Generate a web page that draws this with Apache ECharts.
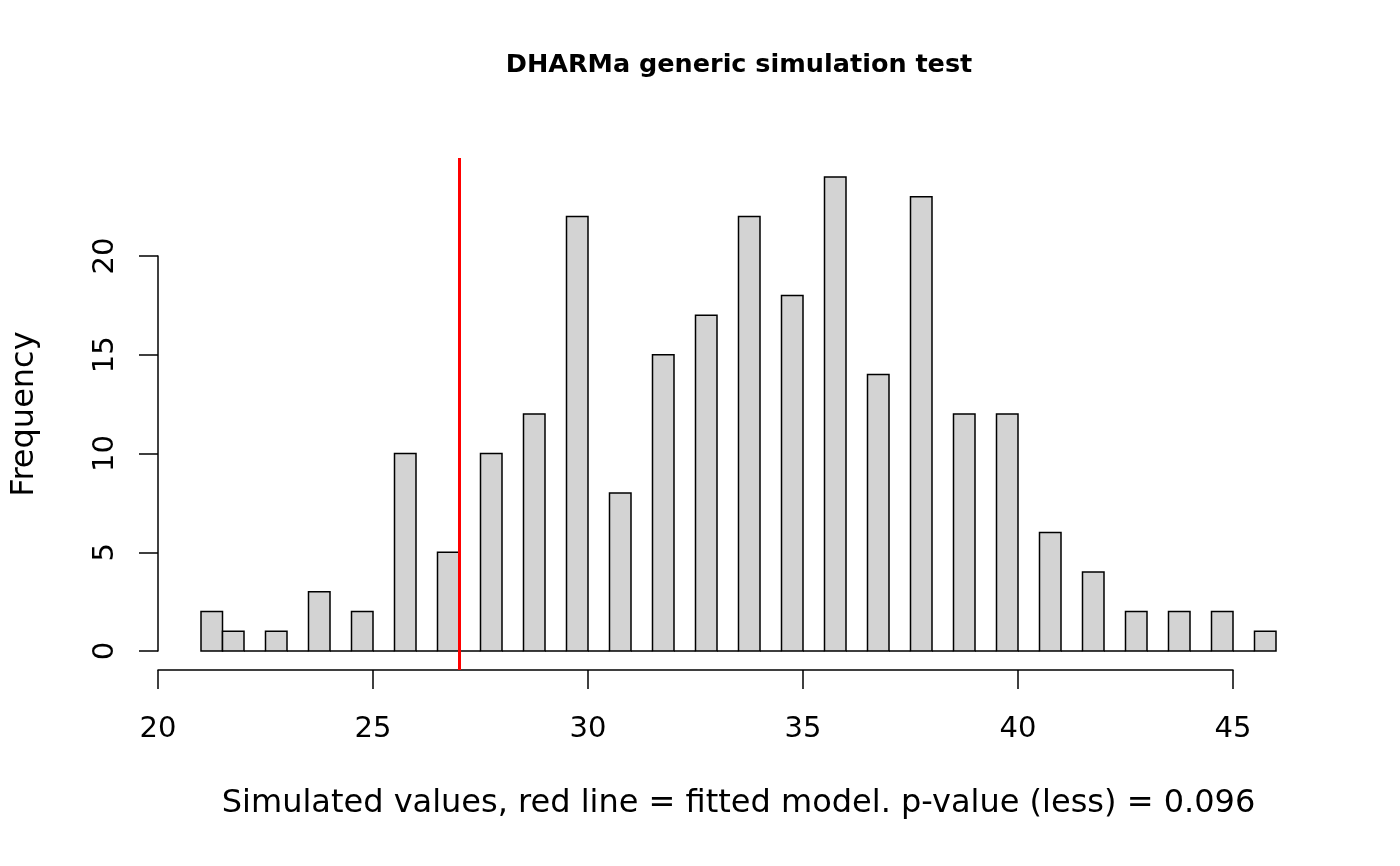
<!DOCTYPE html>
<html>
<head>
<meta charset="utf-8">
<script src="https://cdn.jsdelivr.net/npm/echarts@6/dist/echarts.min.js"></script>
<style>
html,body{margin:0;padding:0;background:#fff;}
#chart{width:1400px;height:866px;}
</style>
</head>
<body>
<div id="chart"></div>
<script>
// Histogram bins (lower edge of each bin, width 0.5) and counts
const binWidth = 0.5;
const binLeft = [21,21.5,22,22.5,23,23.5,24,24.5,25,25.5,26,26.5,27,27.5,28,28.5,29,29.5,30,30.5,
  31,31.5,32,32.5,33,33.5,34,34.5,35,35.5,36,36.5,37,37.5,38,38.5,39,39.5,40,40.5,
  41,41.5,42,42.5,43,43.5,44,44.5,45,45.5];
const counts = [2,1,0,1,0,3,0,2,0,10,0,5,0,10,0,12,0,22,0,8,
  0,15,0,17,0,22,0,18,0,24,0,14,0,23,0,12,0,12,0,6,
  0,4,0,2,0,2,0,2,0,1];
const observedValue = 27;
const xTicks = [20,25,30,35,40,45];
const yTicks = [0,5,10,15,20];
const titleText = 'DHARMa generic simulation test';
const xLabel = 'Simulated values, red line = fitted model. p-value (less) = 0.096';
const yLabel = 'Frequency';

const FONT = 'DejaVu Sans';
const chart = echarts.init(document.getElementById('chart'));
const barData = binLeft.map((b, i) => [b, counts[i]]);

const option = {
  backgroundColor: '#ffffff',
  animation: false,
  title: {
    text: titleText,
    left: 734, top: 47, textAlign: 'center',
    textStyle: {fontFamily: FONT, fontWeight: 'bold', fontSize: 25.5, color: '#000'}
  },
  grid: [
    {left: 158, right: 81, top: 158, bottom: 196},
    {left: 158, right: 167, top: 158, bottom: 196},
    {left: 158, right: 81, top: 256, bottom: 215}
  ],
  xAxis: [
    {gridIndex: 0, type: 'value', min: 20, max: 47,
     axisLine: {show: false}, axisTick: {show: false}, axisLabel: {show: false}, splitLine: {show: false},
     name: xLabel, nameLocation: 'middle', nameGap: 118,
     nameTextStyle: {fontFamily: FONT, fontSize: 32, color: '#000'}},
    {gridIndex: 1, type: 'value', min: xTicks[0], max: xTicks[xTicks.length-1], interval: 5,
     axisLine: {show: true, onZero: false, lineStyle: {color: '#000', width: 1.5}},
     axisTick: {show: true, inside: false, length: 19, lineStyle: {color: '#000', width: 1.5}},
     axisLabel: {show: true, margin: 45, fontFamily: FONT, fontSize: 29, color: '#000'},
     splitLine: {show: false}},
    {gridIndex: 2, type: 'value', show: false, min: 0, max: 1}
  ],
  yAxis: [
    {gridIndex: 0, type: 'value', min: -0.96, max: 24.96,
     axisLine: {show: false}, axisTick: {show: false}, axisLabel: {show: false}, splitLine: {show: false},
     name: yLabel, nameLocation: 'middle', nameGap: 117, nameRotate: 90,
     nameTextStyle: {fontFamily: FONT, fontSize: 32, color: '#000'}},
    {gridIndex: 1, type: 'value', show: false, min: 0, max: 1},
    {gridIndex: 2, type: 'value', min: yTicks[0], max: yTicks[yTicks.length-1], interval: 5,
     axisLine: {show: true, onZero: false, lineStyle: {color: '#000', width: 1.5}},
     axisTick: {show: true, inside: false, length: 19, lineStyle: {color: '#000', width: 1.5}},
     axisLabel: {show: true, rotate: 90, margin: 38, fontFamily: FONT, fontSize: 29, color: '#000'},
     splitLine: {show: false}}
  ],
  series: [{
    type: 'custom',
    xAxisIndex: 0, yAxisIndex: 0,
    data: barData,
    clip: false,
    renderItem: function (params, api) {
      const x0 = api.value(0), c = api.value(1);
      const p0 = api.coord([x0, 0]);
      const p1 = api.coord([x0 + binWidth, c]);
      return {
        type: 'rect',
        shape: {x: p0[0], y: p1[1], width: p1[0] - p0[0], height: p0[1] - p1[1]},
        style: {fill: '#d3d3d3', stroke: '#000', lineWidth: 1.5}
      };
    },
    markLine: {
      silent: true, symbol: 'none', animation: false,
      label: {show: false},
      lineStyle: {color: '#ff0000', width: 3, type: 'solid'},
      data: [{xAxis: observedValue}]
    }
  }]
};
chart.setOption(option);
</script>
</body>
</html>
